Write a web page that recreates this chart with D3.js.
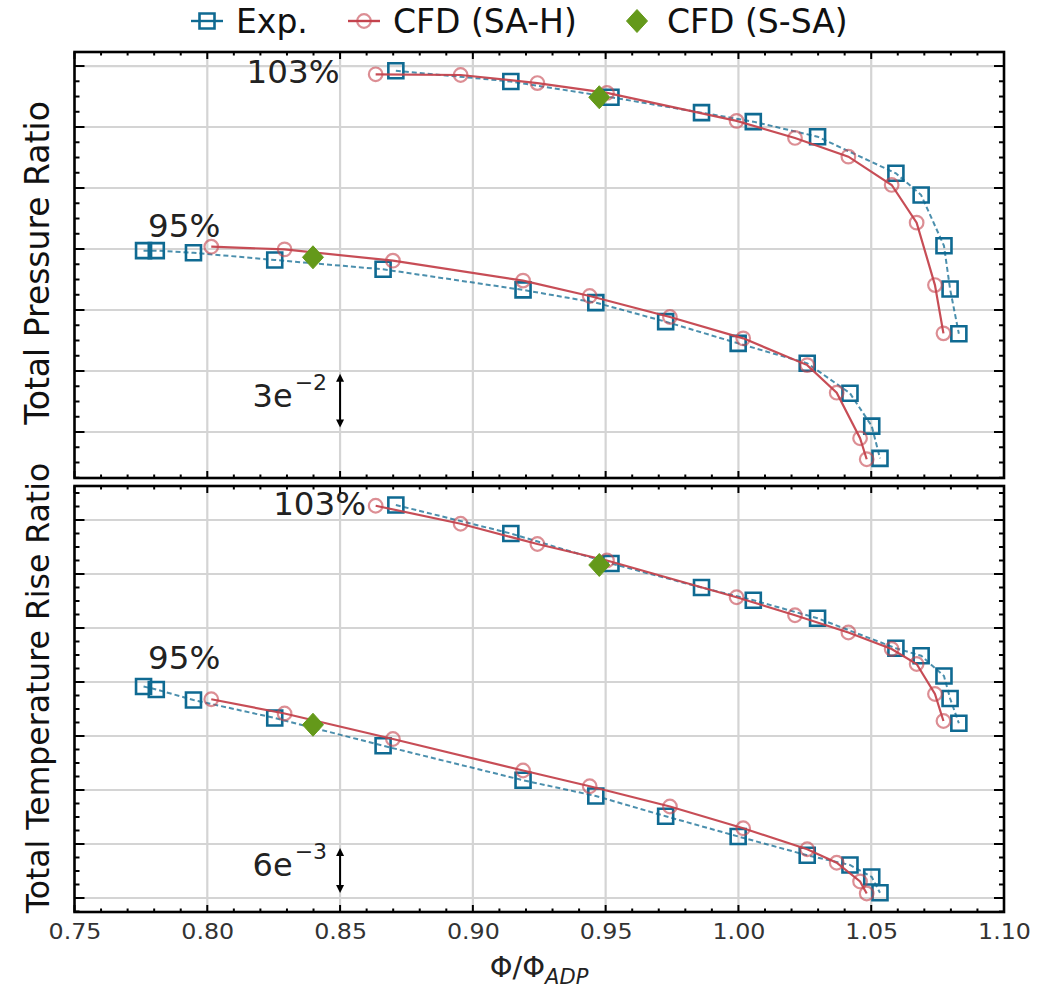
<!DOCTYPE html>
<html>
<head>
<meta charset="utf-8">
<script src="https://cdn.jsdelivr.net/npm/d3@7"></script>
<style>
  html, body { margin: 0; padding: 0; background: #fff; }
  svg { display: block; font-family: "DejaVu Sans", sans-serif; }
</style>
</head>
<body>
<svg id="chart" width="1061" height="988"></svg>
<script>
// ---- data: flow coefficient (Φ/Φ_ADP) and performance ratios ----
const phiTicks = [0.75, 0.80, 0.85, 0.90, 0.95, 1.00, 1.05, 1.10];
const phiTickLabels = ["0.75", "0.80", "0.85", "0.90", "0.95", "1.00", "1.05", "1.10"];

// 103 % speed line
const expPhi103 = [0.8710, 0.9143, 0.9520, 0.9861, 1.0056, 1.0298, 1.0593, 1.0688, 1.0774, 1.0797, 1.0830];
const expPR103  = [1.6014, 1.5954, 1.5866, 1.5780, 1.5730, 1.5646, 1.5442, 1.5321, 1.5038, 1.4797, 1.4548];
const expTR103  = [1.2024, 1.1986, 1.1946, 1.1914, 1.1897, 1.1873, 1.1833, 1.1823, 1.1796, 1.1766, 1.1733];

const cfdPhi103 = [0.8634, 0.8954, 0.9243, 0.9505, 0.9993, 1.0213, 1.0414, 1.0577, 1.0671, 1.0740, 1.0772];
const cfdPR103  = [1.5994, 1.5990, 1.5945, 1.5890, 1.5734, 1.5639, 1.5535, 1.5377, 1.5167, 1.4819, 1.4550];
const cfdTR103  = [1.2023, 1.1999, 1.1972, 1.1950, 1.1901, 1.1877, 1.1854, 1.1832, 1.1812, 1.1772, 1.1736];

// 95 % speed line
const expPhi95 = [0.7760, 0.7808, 0.7948, 0.8254, 0.8662, 0.9189, 0.9463, 0.9726, 0.9999, 1.0259, 1.0420, 1.0502, 1.0533];
const expPR95  = [1.5011, 1.5011, 1.4999, 1.4959, 1.4907, 1.4792, 1.4721, 1.4615, 1.4494, 1.4383, 1.4216, 1.4033, 1.3853];
const expTR95  = [1.1782, 1.1778, 1.1764, 1.1740, 1.1703, 1.1657, 1.1636, 1.1609, 1.1582, 1.1557, 1.1544, 1.1528, 1.1507];

const cfdPhi95 = [0.8015, 0.8291, 0.8699, 0.9189, 0.9440, 0.9742, 1.0018, 1.0259, 1.0370, 1.0458, 1.0483];
const cfdPR95  = [1.5033, 1.5018, 1.4955, 1.4844, 1.4758, 1.4641, 1.4522, 1.4373, 1.4219, 1.3965, 1.3848];
const cfdTR95  = [1.1765, 1.1746, 1.1712, 1.1670, 1.1649, 1.1622, 1.1593, 1.1565, 1.1547, 1.1522, 1.1506];

// single S-SA design points (95 %, 103 %)
const ssaPhi = [0.8398, 0.9476];
const ssaPR  = [1.4974, 1.5866];
const ssaTR  = [1.1731, 1.1944];

// y gridline steps (values are unlabelled; a scale bar gives the magnitude)
const prTickStart = 1.40, prTickStep = 0.034, prTickCount = 7;
const trTickStart = 1.15, trTickStep = 0.0072, trTickCount = 8;
const prBar = 0.03, trBar = 0.006;

// ---- styles ----
const EXP = "#0f6a92", CFD = "#c4434d", SSA = "#64991a";

const svg = d3.select("#chart");

const x = d3.scaleLinear().domain([0.75, 1.10]).range([74.5, 1004]);

const panels = [
  { key: "pr", top: 52, bottom: 478, domain: [1.37436, 1.61182],
    tickStart: prTickStart, tickStep: prTickStep, tickCount: prTickCount,
    title: "Total Pressure Ratio", titleY: 263, titleSize: 33,
    exp: [[expPhi103, expPR103], [expPhi95, expPR95]],
    cfd: [[cfdPhi103, cfdPR103], [cfdPhi95, cfdPR95]],
    ssa: ssaPR, bar: prBar, barBase: 1.4025, barExp: "−2", barMant: "3e",
    labels: [{t: "103%", phi: 0.8323, v: 1.5945}, {t: "95%", phi: 0.7913, v: 1.5087}],
    showX: false },
  { key: "tr", top: 486, bottom: 912, domain: [1.148133, 1.204933],
    tickStart: trTickStart, tickStep: trTickStep, tickCount: trTickCount,
    title: "Total Temperature Rise Ratio", titleY: 688, titleSize: 31.5,
    exp: [[expPhi103, expTR103], [expPhi95, expTR95]],
    cfd: [[cfdPhi103, cfdTR103], [cfdPhi95, cfdTR95]],
    ssa: ssaTR, bar: trBar, barBase: 1.15067, barExp: "−3", barMant: "6e",
    labels: [{t: "103%", phi: 0.8423, v: 1.2011}, {t: "95%", phi: 0.7913, v: 1.1805}],
    showX: true }
];

const [x0, x1] = x.range();

function squarePath(s) { const h = s / 2; return `M${-h},${-h}H${h}V${h}H${-h}Z`; }
function diamondPath(w, h) { return `M0,${-h}L${w},0L0,${h}L${-w},0Z`; }

panels.forEach(p => {
  const y = d3.scaleLinear().domain(p.domain).range([p.bottom, p.top]);
  const g = svg.append("g");

  const majors = d3.range(p.tickCount).map(i => p.tickStart + i * p.tickStep);
  const minorStep = p.tickStep / 4;
  const minors = [];
  for (let v = p.tickStart - Math.floor((p.tickStart - p.domain[0]) / minorStep) * minorStep;
       v <= p.domain[1] + 1e-9; v += minorStep) {
    if (!majors.some(m => Math.abs(m - v) < 1e-9)) minors.push(v);
  }
  const xMinors = d3.range(0.76, 1.1, 0.01).filter(v => !phiTicks.some(t => Math.abs(t - v) < 1e-6));

  // grid
  const grid = g.append("g").attr("stroke", "#d4d4d4").attr("stroke-width", 2.2);
  phiTicks.slice(1, -1).forEach(t => {
    grid.append("line").attr("x1", x(t)).attr("x2", x(t)).attr("y1", p.top).attr("y2", p.bottom);
  });
  majors.forEach(v => {
    grid.append("line").attr("x1", x0).attr("x2", x1).attr("y1", y(v)).attr("y2", y(v));
  });

  // scale bar
  const bx = x(0.85);
  const by1 = y(p.barBase), by2 = y(p.barBase + p.bar);
  const bar = g.append("g");
  bar.append("line").attr("x1", bx).attr("x2", bx).attr("y1", by1 - 3).attr("y2", by2 + 3)
    .attr("stroke", "#000").attr("stroke-width", 2);
  bar.append("path").attr("d", `M${bx - 4},${by2 + 8}L${bx},${by2}L${bx + 4},${by2 + 8}Z`).attr("fill", "#000");
  bar.append("path").attr("d", `M${bx - 4},${by1 - 8}L${bx},${by1}L${bx + 4},${by1 - 8}Z`).attr("fill", "#000");
  const bt = bar.append("text").attr("x", bx - 13).attr("y", (by1 + by2) / 2 + 6)
    .attr("text-anchor", "end").attr("font-size", 32).attr("fill", "#222");
  bt.append("tspan").text(p.barMant);
  bt.append("tspan").attr("dx", 2).attr("dy", -17).attr("font-size", 22).text(p.barExp);

  // Exp. lines (dashed) and squares
  const line = d3.line().x(d => x(d[0])).y(d => y(d[1]));
  p.exp.forEach(([ph, vv]) => {
    const pts = ph.map((v, i) => [v, vv[i]]);
    g.append("path").attr("d", line(pts)).attr("fill", "none")
      .attr("stroke", EXP).attr("stroke-width", 2).attr("stroke-dasharray", "5,3").attr("opacity", 0.75);
  });
  p.exp.forEach(([ph, vv]) => {
    ph.forEach((v, i) => {
      g.append("path").attr("d", squarePath(15)).attr("transform", `translate(${x(v)},${y(vv[i])})`)
        .attr("fill", "none").attr("stroke", EXP).attr("stroke-width", 2.6);
    });
  });

  // CFD (SA-H) lines and circles
  p.cfd.forEach(([ph, vv]) => {
    const pts = ph.map((v, i) => [v, vv[i]]);
    g.append("path").attr("d", line(pts)).attr("fill", "none")
      .attr("stroke", CFD).attr("stroke-width", 2.2).attr("opacity", 0.95);
    ph.forEach((v, i) => {
      g.append("circle").attr("cx", x(v)).attr("cy", y(vv[i])).attr("r", 6.8)
        .attr("fill", "none").attr("stroke", CFD).attr("stroke-width", 2.2).attr("opacity", 0.6);
    });
  });

  // CFD (S-SA)
  ssaPhi.forEach((v, i) => {
    g.append("path").attr("d", diamondPath(10.5, 11.5))
      .attr("transform", `translate(${x(v)},${y(p.ssa[i])})`).attr("fill", SSA)
      .attr("stroke", SSA).attr("stroke-width", 1).attr("stroke-linejoin", "round");
  });

  // speed labels
  p.labels.forEach(l => {
    g.append("text").attr("x", x(l.phi)).attr("y", y(l.v)).attr("text-anchor", "middle")
      .attr("font-size", 32.5).attr("fill", "#222").text(l.t);
  });

  // ticks (inward on all sides)
  const ticks = g.append("g").attr("stroke", "#000").attr("stroke-width", 2);
  majors.forEach(v => {
    ticks.append("line").attr("x1", x0).attr("x2", x0 + 10).attr("y1", y(v)).attr("y2", y(v));
    ticks.append("line").attr("x1", x1).attr("x2", x1 - 10).attr("y1", y(v)).attr("y2", y(v));
  });
  minors.forEach(v => {
    ticks.append("line").attr("x1", x0).attr("x2", x0 + 5).attr("y1", y(v)).attr("y2", y(v));
    ticks.append("line").attr("x1", x1).attr("x2", x1 - 5).attr("y1", y(v)).attr("y2", y(v));
  });
  phiTicks.forEach(t => {
    ticks.append("line").attr("x1", x(t)).attr("x2", x(t)).attr("y1", p.top).attr("y2", p.top + 7);
    ticks.append("line").attr("x1", x(t)).attr("x2", x(t)).attr("y1", p.bottom).attr("y2", p.bottom - 7);
  });
  xMinors.forEach(t => {
    ticks.append("line").attr("x1", x(t)).attr("x2", x(t)).attr("y1", p.top).attr("y2", p.top + 3.5);
    ticks.append("line").attr("x1", x(t)).attr("x2", x(t)).attr("y1", p.bottom).attr("y2", p.bottom - 3.5);
  });

  // frame
  g.append("rect").attr("x", x0).attr("y", p.top).attr("width", x1 - x0).attr("height", p.bottom - p.top)
    .attr("fill", "none").attr("stroke", "#000").attr("stroke-width", 2.6);

  // y title
  g.append("text").attr("transform", `translate(49,${p.titleY}) rotate(-90)`)
    .attr("text-anchor", "middle").attr("font-size", p.titleSize).attr("fill", "#111").text(p.title);

  // x tick labels on the lower panel
  if (p.showX) {
    const xAxis = d3.axisBottom(x).tickValues(phiTicks).tickSize(0).tickPadding(0)
      .tickFormat((d, i) => phiTickLabels[i]);
    const ax = g.append("g").attr("transform", `translate(0,${p.bottom + 11})`).call(xAxis);
    ax.select(".domain").remove();
    ax.selectAll("text").attr("font-size", 22).attr("fill", "#333")
      .attr("font-family", "DejaVu Sans, sans-serif").attr("dy", "0.71em")
      .attr("transform", "scale(1.08,1)");
  }
});

// x-axis title Φ/Φ_ADP
const xt = svg.append("text").attr("x", 539).attr("y", 977).attr("text-anchor", "middle")
  .attr("font-size", 29).attr("fill", "#222");
xt.append("tspan").text("Φ/Φ");
xt.append("tspan").attr("dy", 7).attr("font-size", 21).attr("font-style", "italic").text("ADP");

// legend
const legend = svg.append("g").attr("font-size", 33).attr("fill", "#111");
const legItems = [
  { label: "Exp.", cx: 207, tx: 236, kind: "exp" },
  { label: "CFD (SA-H)", cx: 364, tx: 393, kind: "cfd" },
  { label: "CFD (S-SA)", cx: 637, tx: 667, kind: "ssa" }
];
legItems.forEach(it => {
  const ly = 21;
  if (it.kind === "exp") {
    legend.append("line").attr("x1", it.cx - 16).attr("x2", it.cx + 16).attr("y1", ly).attr("y2", ly)
      .attr("stroke", EXP).attr("stroke-width", 2.4);
    legend.append("path").attr("d", squarePath(15)).attr("transform", `translate(${it.cx},${ly})`)
      .attr("fill", "none").attr("stroke", EXP).attr("stroke-width", 2.6);
  } else if (it.kind === "cfd") {
    legend.append("line").attr("x1", it.cx - 16).attr("x2", it.cx + 16).attr("y1", ly).attr("y2", ly)
      .attr("stroke", CFD).attr("stroke-width", 2.4);
    legend.append("circle").attr("cx", it.cx).attr("cy", ly).attr("r", 6.8)
      .attr("fill", "none").attr("stroke", CFD).attr("stroke-width", 2.2).attr("opacity", 0.6);
  } else {
    legend.append("path").attr("d", diamondPath(10.5, 11.5)).attr("transform", `translate(${it.cx},${ly})`)
      .attr("fill", SSA).attr("stroke", SSA).attr("stroke-width", 1);
  }
  legend.append("text").attr("x", it.tx).attr("y", ly + 12).text(it.label);
});
</script>
</body>
</html>
